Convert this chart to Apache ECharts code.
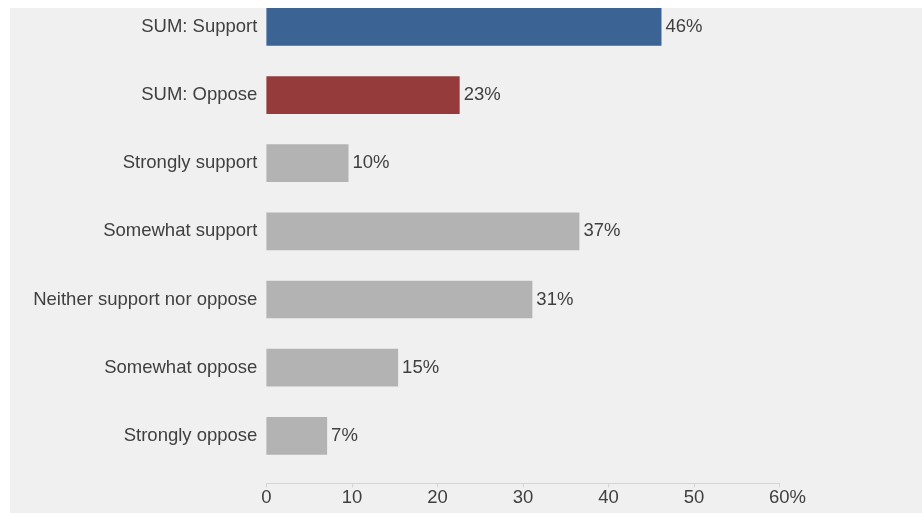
<!DOCTYPE html>
<html>
<head>
<meta charset="utf-8">
<script src="https://cdn.jsdelivr.net/npm/echarts@6/dist/echarts.min.js"></script>
<style>
  html, body { margin: 0; padding: 0; background: #ffffff; }
  #wrap { position: absolute; left: 10px; top: 8px; width: 912px; height: 505px; background: #f0f0f0; overflow: hidden; }
  #chart { position: absolute; left: 0; top: -16px; width: 912px; height: 521px; }
</style>
</head>
<body>
<div id="wrap"><div id="chart"></div></div>
<script>
const categories = ['SUM: Support', 'SUM: Oppose', 'Strongly support', 'Somewhat support', 'Neither support nor oppose', 'Somewhat oppose', 'Strongly oppose'];
const values = [46.2, 22.6, 9.6, 36.6, 31.1, 15.4, 7.1];
const xTicks = [0, 10, 20, 30, 40, 50, 60];

const barColors = ['#3b6394', '#953b3b', '#b3b3b3', '#b3b3b3', '#b3b3b3', '#b3b3b3', '#b3b3b3'];
const textColor = '#404040';
const fontFamily = '"Liberation Sans", Arial, sans-serif';
const fs = 18.5;

const chart = echarts.init(document.getElementById('chart'), null, { renderer: 'canvas' });
chart.setOption({
  backgroundColor: 'transparent',
  animation: false,
  grid: { left: 256.4, right: 142.5, top: 0.8, bottom: 43.1, containLabel: false },
  xAxis: {
    type: 'value',
    min: xTicks[0],
    max: xTicks[xTicks.length - 1],
    interval: 10,
    offset: 13.4,
    axisLine: { show: true, lineStyle: { color: '#d4d4d4', width: 1 } },
    axisTick: { show: true, length: 4, lineStyle: { color: '#d4d4d4' } },
    splitLine: { show: false },
    axisLabel: {
      margin: 5,
      fontSize: fs,
      fontFamily: fontFamily,
      color: textColor,
      formatter: function (v) {
        return v === xTicks[xTicks.length - 1] ? '{p|' + v + '%}' : String(v);
      },
      rich: {
        p: { padding: [0, 0, 0, 16], fontSize: fs, fontFamily: fontFamily, color: textColor }
      }
    }
  },
  yAxis: {
    type: 'category',
    data: categories,
    inverse: true,
    axisLine: { show: false },
    axisTick: { show: false },
    splitLine: { show: false },
    axisLabel: { margin: 9, fontSize: fs, fontFamily: fontFamily, color: textColor }
  },
  series: [{
    type: 'bar',
    data: values.map(function (v, i) { return { value: v, itemStyle: { color: barColors[i] } }; }),
    barWidth: '55.3%',
    label: {
      show: true,
      position: 'right',
      distance: 4,
      fontSize: fs,
      fontFamily: fontFamily,
      color: textColor,
      formatter: function (p) { return Math.round(p.value) + '%'; }
    }
  }]
});
</script>
</body>
</html>
